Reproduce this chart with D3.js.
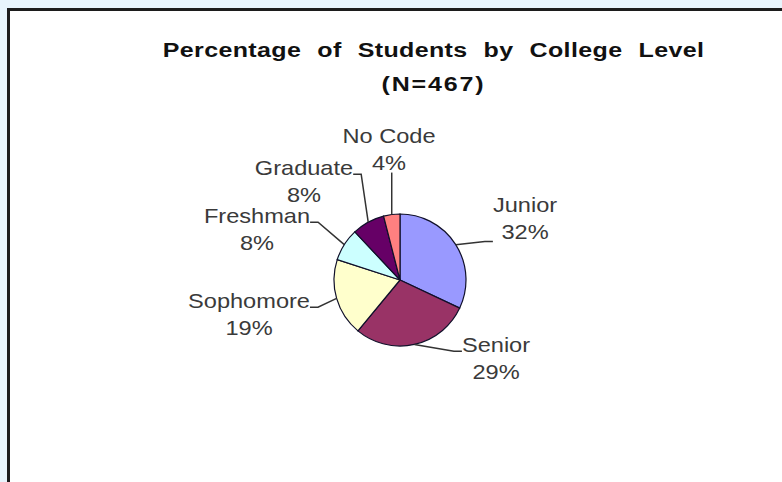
<!DOCTYPE html>
<html>
<head>
<meta charset="utf-8">
<script src="https://cdn.jsdelivr.net/npm/d3@7"></script>
<style>
  body { margin: 0; background: #e8f4fc; }
  svg { display: block; }
</style>
</head>
<body>
<svg id="chart"></svg>
<script>
// chart data
const levels = ["Junior", "Senior", "Sophomore", "Freshman", "Graduate", "No Code"];
const percents = [32, 29, 19, 8, 8, 4];
const sliceColors = ["#9999ff", "#993366", "#ffffcc", "#ccffff", "#660066", "#ff8080"];
const titleLines = ["Percentage of Students by College Level", "(N=467)"];

const width = 782;
const height = 482;
const cx = 400, cy = 280, radius = 66;

// where each label block sits (center x, first baseline) - placed by hand like the original
const labelAt = [[525, 212], [496, 352], [249, 308], [257, 223], [304, 175], [389, 143]];
// leader attaches to label side (0.35 of height) or bottom (1)
const leaderFrac = [1, 0.35, 0.35, 0.35, 0.35, 1];
const labelScale = 1.18;
const titleScale = 1.25;

let svg = d3.select("#chart")
    .attr("width", width)
    .attr("height", height);

// frame
svg.append("rect")
    .attr("x", 8.5).attr("y", 9.5)
    .attr("width", 820).attr("height", 520)
    .attr("fill", "#ffffff")
    .attr("stroke", "#1c1c1c")
    .attr("stroke-width", 3);

// title (stretched a bit, wide word gaps like the original)
let title = svg.append("g")
    .attr("font-family", "Liberation Sans, Arial, sans-serif")
    .attr("font-weight", "bold")
    .attr("font-size", 20)
    .attr("fill", "#111")
    .attr("text-anchor", "middle");

title.append("text")
    .attr("transform", `translate(433.5,57) scale(${titleScale},1)`)
    .attr("word-spacing", 7)
    .attr("letter-spacing", 0.3)
    .text(titleLines[0]);

title.append("text")
    .attr("transform", `translate(433.5,91) scale(${titleScale},1)`)
    .attr("letter-spacing", 1.5)
    .text(titleLines[1]);

let data = levels.map((d, i) => ({name: d, value: percents[i], color: sliceColors[i]}));

let pie = d3.pie().sort(null).value(d => d.value);
let arc = d3.arc().innerRadius(0).outerRadius(radius);
let edge = d3.arc().innerRadius(radius).outerRadius(radius);

let arcs = pie(data);

let g = svg.append("g").attr("transform", `translate(${cx},${cy})`);

g.selectAll("path")
    .data(arcs)
    .join("path")
    .attr("d", arc)
    .attr("fill", d => d.data.color)
    .attr("stroke", "#10102a")
    .attr("stroke-width", 1.2);

// labels
let labels = svg.append("g")
    .attr("font-family", "Liberation Sans, Arial, sans-serif")
    .attr("font-size", 20)
    .attr("fill", "#3a3a3a");

arcs.forEach((a, i) => {
    let [lx, ly] = labelAt[i];
    let t = labels.append("g")
        .attr("transform", `translate(${lx},${ly}) scale(${labelScale},1)`);
    t.append("text").attr("text-anchor", "middle").attr("y", 0).text(a.data.name);
    t.append("text").attr("text-anchor", "middle").attr("y", 27).text(a.data.value + "%");

    // leader line from slice edge to label
    let bb = t.node().getBBox();
    let left = lx + bb.x * labelScale, right = lx + (bb.x + bb.width) * labelScale;
    let top = ly + bb.y, bottom = ly + bb.y + bb.height;
    let [ex, ey] = edge.centroid(a);
    ex += cx; ey += cy;
    let px = Math.max(left, Math.min(right, ex));
    let py = top + (bottom - top) * leaderFrac[i];
    if (leaderFrac[i] === 1) py = bottom - 2;
    let pts = [[px, py]];
    if (px === right) pts.push([px + 8, py]);
    else if (px === left) pts.push([px - 8, py]);
    pts.push([ex, ey]);
    svg.append("path")
        .attr("d", d3.line()(pts))
        .attr("fill", "none")
        .attr("stroke", "#333")
        .attr("stroke-width", 1.5);
});
</script>
</body>
</html>
